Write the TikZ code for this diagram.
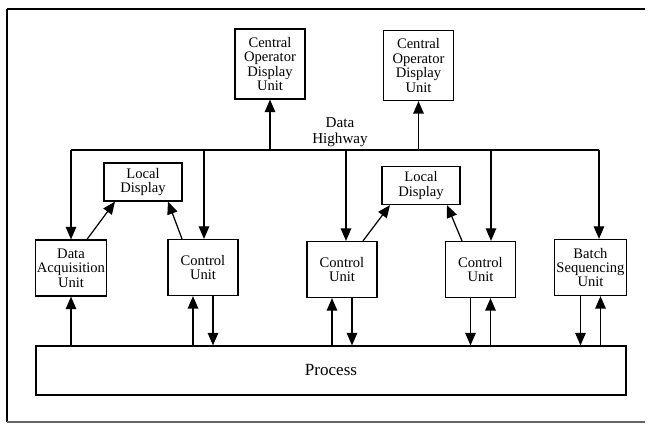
\documentclass[tikz,border=0pt]{standalone}
\usepackage{fontspec}
\setmainfont{Liberation Serif}
\usetikzlibrary{arrows.meta,positioning}

\begin{document}
\begin{tikzpicture}[x=0.2mm,y=-0.2mm,line width=0.7pt,
    box/.style={draw,rectangle,align=center,inner sep=1pt,font=\fontsize{8.3}{8.2}\selectfont},
    unit/.style={box,minimum width=14mm,minimum height=11.2mm},
    arr/.style={-{Triangle[length=2.5mm,width=2.1mm]}}]
  \useasboundingbox (0,0) rectangle (650,424);
  % frame
  \draw[line width=1.6pt] (645,9) -- (7,9);
  \draw[line width=1.1pt] (7,9) -- (7,422);
  \draw[line width=0.9pt,black!60] (7,422) -- (645,422);

  \node[box,minimum width=14mm,minimum height=14mm] (cod1) at (270,64) {Central\\Operator\\Display\\Unit};
  \node[box,minimum width=14mm,minimum height=14mm] (cod2) at (418.5,65.5) {Central\\Operator\\Display\\Unit};
  \node[box,minimum width=15.6mm,minimum height=7.6mm] (ld1) at (143,182) {Local\\Display};
  \node[box,minimum width=15.6mm,minimum height=7.6mm] (ld2) at (421,185.5) {Local\\Display};

  \node[unit] (dau) at (71,268) {Data\\Acquisition\\Unit};
  \node[unit] (cu1) at (203,267.5) {Control\\Unit};
  \node[unit] (cu2) at (342,269.5) {Control\\Unit};
  \node[unit] (cu3) at (480.5,269.5) {Control\\Unit};
  \node[unit] (bsu) at (590.5,267.5) {Batch\\Sequencing\\Unit};

  \node[draw,minimum width=118mm,minimum height=9.8mm,font=\fontsize{9.7}{11}\selectfont] (proc) at (331,370.5) {Process};

  % data highway
  \coordinate (hl) at (71,150);
  \coordinate (hw2) at (204,150);
  \coordinate (hw3) at (346,150);
  \coordinate (hw4) at (491,150);
  \coordinate (hr) at (599,150);
  \node[align=center,font=\fontsize{8.6}{8.8}\selectfont] (dh) at (340,132) {Data\\Highway};
  \draw (hl) -- (hr);
  \draw[arr] (hl) -- (dau.north);
  \draw[arr] (hw2) -- (hw2 |- cu1.north);
  \draw[arr] (hw3) -- (hw3 |- cu2.north);
  \draw[arr] (hw4) -- (hw4 |- cu3.north);
  \draw[arr] (hr) -- (hr |- bsu.north);
  \draw[arr] (cod1.south |- hl) -- (cod1.south);
  \draw[arr] (cod2.south |- hl) -- (cod2.south);

  % local displays
  \draw[arr] ([xshift=3.2mm]dau.north) -- ([xshift=-5.6mm]ld1.south);
  \draw[arr] ([xshift=-4.2mm]cu1.north) -- ([xshift=5mm]ld1.south);
  \draw[arr] ([xshift=4.2mm]cu2.north) -- ([xshift=-6.2mm]ld2.south);
  \draw[arr] ([xshift=-3.7mm]cu3.north) -- ([xshift=5.2mm]ld2.south);

  % process links
  \draw[arr] (proc.north -| dau) -- (dau.south);
  \draw[arr] ([xshift=-2mm]cu1.south |- proc.north) -- ([xshift=-2mm]cu1.south);
  \draw[arr] ([xshift=2mm]cu1.south) -- ([xshift=2mm]cu1.south |- proc.north);
  \draw[arr] ([xshift=-2mm]cu2.south |- proc.north) -- ([xshift=-2mm]cu2.south);
  \draw[arr] ([xshift=2mm]cu2.south) -- ([xshift=2mm]cu2.south |- proc.north);
  \draw[arr] ([xshift=-2mm]cu3.south) -- ([xshift=-2mm]cu3.south |- proc.north);
  \draw[arr] ([xshift=2mm]cu3.south |- proc.north) -- ([xshift=2mm]cu3.south);
  \draw[arr] ([xshift=-2mm]bsu.south) -- ([xshift=-2mm]bsu.south |- proc.north);
  \draw[arr] ([xshift=2mm]bsu.south |- proc.north) -- ([xshift=2mm]bsu.south);
\end{tikzpicture}
\end{document}
